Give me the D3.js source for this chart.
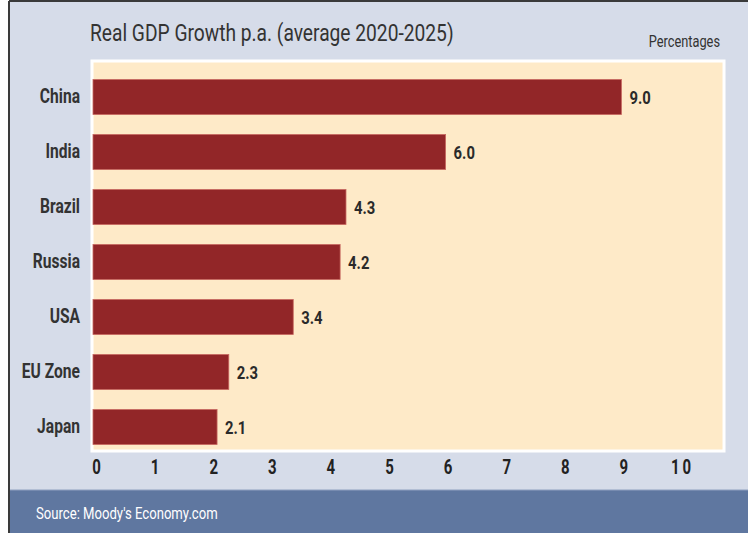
<!DOCTYPE html>
<html><head><meta charset="utf-8">
<script src="https://cdn.jsdelivr.net/npm/d3@7"></script>
<style>
html,body{margin:0;padding:0;background:#fff;}
svg{display:block;}
text{font-family:Roboto,"Liberation Sans",sans-serif;}
</style></head>
<body>
<svg id="chart" width="748" height="533"></svg>
<script>
const categories = ["China","India","Brazil","Russia","USA","EU Zone","Japan"];
const values = [9.0, 6.0, 4.3, 4.2, 3.4, 2.3, 2.1];
const tickValues = [0,1,2,3,4,5,6,7,8,9,10];
const title = "Real GDP Growth p.a. (average 2020-2025)";
const unitLabel = "Percentages";
const source = "Source: Moody's Economy.com";

const svg = d3.select("#chart");
const W = 748, H = 533;

svg.append("rect").attr("x",0).attr("y",0).attr("width",W).attr("height",H).attr("fill","#ffffff");
svg.append("rect").attr("x",9).attr("y",1).attr("width",W-9).attr("height",H-1).attr("fill","#d6dce9");
svg.append("line").attr("x1",9).attr("y1",1).attr("x2",9).attr("y2",H).attr("stroke","#3a3a3a").attr("stroke-width",2);
svg.append("line").attr("x1",9).attr("y1",1).attr("x2",W).attr("y2",1).attr("stroke","#3a3a3a").attr("stroke-width",2);

// footer band
svg.append("rect").attr("x",10).attr("y",490).attr("width",W-10).attr("height",H-490).attr("fill","#5f77a0");
svg.append("line").attr("x1",10).attr("x2",W).attr("y1",490).attr("y2",490).attr("stroke","#8fa0bf").attr("stroke-width",1);
svg.append("text").attr("transform","translate(36,519) scale(0.82,1)").attr("fill","#ffffff")
  .attr("font-size",16).text(source);

// plot area
svg.append("rect").attr("x",92).attr("y",61).attr("width",632).attr("height",390)
  .attr("fill","#feeac8").attr("stroke","#ffffff").attr("stroke-width",3);

// title
svg.append("text").attr("transform","translate(90,41) scale(0.8,1)").attr("fill","#333").attr("font-size",24).text(title);
svg.append("text").attr("transform","translate(720,47) scale(0.8,1)").attr("text-anchor","end").attr("fill","#333").attr("font-size",16).text(unitLabel);

const x = d3.scaleLinear().domain([0,10]).range([94,680]);
const y = d3.scaleBand().domain(categories).range([69.5, 69.5+385]).paddingInner(0.364).paddingOuter(0.182);

const data = categories.map((c,i)=>({c, v: values[i]}));

svg.append("g").selectAll("rect").data(data).join("rect")
  .attr("x", x(0)-1)
  .attr("y", d=>y(d.c))
  .attr("width", d=>x(d.v)-x(0)+1)
  .attr("height", y.bandwidth())
  .attr("fill","#922628")
  .attr("stroke","#c7675f").attr("stroke-width",0.8);

svg.append("g").selectAll("text").data(data).join("text")
  .attr("transform", d=>`translate(${x(d.v)+8},${y(d.c)+y.bandwidth()/2}) scale(0.78,1)`)
  .attr("dy","0.36em")
  .attr("font-size",19).attr("font-weight","bold").attr("fill","#2a2a2a")
  .text(d=>d3.format(".1f")(d.v));

// category axis
const yAxis = svg.append("g").attr("transform","translate(80,0)")
  .call(d3.axisLeft(y).tickSize(0).tickPadding(0));
yAxis.select(".domain").remove();
yAxis.selectAll("text").attr("font-size",20).attr("font-weight","bold").attr("fill","#333")
  .attr("font-family","Roboto,sans-serif")
  .attr("transform","scale(0.78,1)");

// value axis
const xAxis = svg.append("g").attr("transform","translate(2,460)")
  .call(d3.axisBottom(x).tickValues(tickValues).tickSize(0).tickPadding(0).tickFormat(d3.format("d")));
xAxis.select(".domain").remove();
xAxis.selectAll("text").attr("font-size",20).attr("font-weight","bold").attr("fill","#222")
  .attr("dy","0.71em")
  .attr("letter-spacing", d=> d>=10 ? "4px" : null)
  .attr("font-family","Roboto,sans-serif")
  .attr("transform","scale(0.75,1)");
</script>
</body></html>
